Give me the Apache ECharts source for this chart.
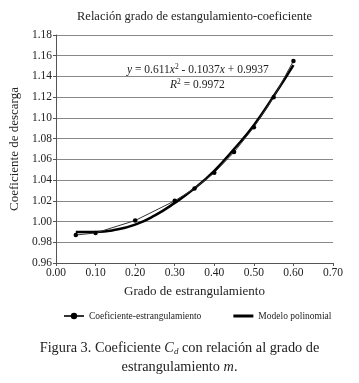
<!DOCTYPE html>
<html><head><meta charset="utf-8">
<script src="https://cdn.jsdelivr.net/npm/echarts@6/dist/echarts.min.js"></script>
<style>html,body{margin:0;padding:0;background:#fff}#c{width:359px;height:383px}</style>
</head><body><div id="c"></div>
<script>
var gradoX = [0.05, 0.10, 0.20, 0.30, 0.35, 0.40, 0.45, 0.50, 0.55, 0.60];
var coefY = [0.987, 0.989, 1.001, 1.020, 1.032, 1.047, 1.067, 1.091, 1.120, 1.155];
var modeloX = [0.05, 0.10, 0.15, 0.20, 0.25, 0.30, 0.35, 0.40, 0.45, 0.50, 0.55, 0.60];
var modeloY = [0.990, 0.990, 0.992, 0.997, 1.006, 1.018, 1.032, 1.049, 1.070, 1.093, 1.121, 1.151];
var xTicks = ['0.00','0.10','0.20','0.30','0.40','0.50','0.60','0.70'];
var serif = '"Liberation Serif","DejaVu Serif",serif';

var chart = echarts.init(document.getElementById('c'));
chart.setOption({
  animation: false,
  title: {
    text: 'Relación grado de estangulamiento-coeficiente',
    left: 72, top: 5,
    textStyle: {fontFamily: serif, fontSize: 12.5, fontWeight: 'normal', color: '#222'}
  },
  grid: {left: 50, right: 26, top: 35, bottom: 120},
  xAxis: {
    type: 'value', min: 0, max: 0.7, interval: 0.1,
    name: 'Grado de estrangulamiento', nameLocation: 'middle', nameGap: 22,
    nameTextStyle: {fontFamily: serif, fontSize: 13, color: '#222'},
    axisLine: {lineStyle: {color: '#555', width: 1}},
    axisTick: {show: true, length: 3, lineStyle: {color: '#555'}},
    axisLabel: {fontFamily: serif, fontSize: 11.5, color: '#222', margin: 4,
      formatter: function (v) { return xTicks[Math.round(v * 10)]; }},
    splitLine: {show: false}
  },
  yAxis: {
    type: 'value', min: 0.96, max: 1.18, interval: 0.02,
    name: 'Coeficiente de descarga', nameLocation: 'middle', nameGap: 35,
    nameTextStyle: {fontFamily: serif, fontSize: 13, color: '#222'},
    axisLine: {show: true, lineStyle: {color: '#555', width: 1}},
    axisTick: {show: true, length: 3, lineStyle: {color: '#555'}},
    axisLabel: {fontFamily: serif, fontSize: 11.5, color: '#222', margin: 4,
      formatter: function (v) { return v.toFixed(2); }},
    splitLine: {show: true, lineStyle: {color: '#888', width: 1}}
  },
  legend: {
    top: 306, left: 58, itemGap: 32, itemWidth: 20, itemHeight: 8,
    textStyle: {fontFamily: serif, fontSize: 9.5, color: '#222'},
    data: [
      {name: 'Coeficiente-estrangulamiento'},
      {name: 'Modelo polinomial', icon: 'path://M0,0L20,0L20,3L0,3Z', itemStyle: {color: '#000'}}
    ]
  },
  series: [
    {
      name: 'Modelo polinomial', type: 'line', smooth: true, symbol: 'none',
      data: modeloX.map(function (x, i) { return [x, modeloY[i]]; }),
      lineStyle: {color: '#000', width: 2.5}, itemStyle: {color: '#000'}, z: 2
    },
    {
      name: 'Coeficiente-estrangulamiento', type: 'line', smooth: false,
      symbol: 'circle', symbolSize: 4.5,
      data: gradoX.map(function (x, i) { return [x, coefY[i]]; }),
      lineStyle: {color: '#333', width: 1}, itemStyle: {color: '#000'}, z: 3
    }
  ],
  graphic: [
    {
      type: 'text', left: 127, top: 63, z: 10,
      style: {
        text: '{i|y} = 0.611{i|x}{s|2} - 0.1037{i|x} + 0.9937',
        font: '11.5px ' + serif, fill: '#222',
        rich: {i: {fontStyle: 'italic', fontFamily: serif, fontSize: 11.5}, s: {fontSize: 7.5, verticalAlign: 'top', padding: [0,0,6,0], fontFamily: serif}}
      }
    },
    {
      type: 'text', left: 170, top: 78, z: 10,
      style: {
        text: '{i|R}{s|2} = 0.9972',
        font: '11.5px ' + serif, fill: '#222',
        rich: {i: {fontStyle: 'italic', fontFamily: serif, fontSize: 11.5}, s: {fontSize: 7.5, verticalAlign: 'top', padding: [0,0,6,0], fontFamily: serif}}
      }
    },
    {
      type: 'text', left: 'center', top: 341,
      style: {
        text: 'Figura 3. Coeficiente {i|C}{sub|d} con relación al grado de',
        font: '14.3px ' + serif, fill: '#222',
        rich: {i: {fontStyle: 'italic', fontFamily: serif, fontSize: 14.3}, sub: {fontStyle: 'italic', fontFamily: serif, fontSize: 9, padding: [7,0,0,0]}}
      }
    },
    {
      type: 'text', left: 'center', top: 360,
      style: {
        text: 'estrangulamiento {i|m}.',
        font: '14.3px ' + serif, fill: '#222',
        rich: {i: {fontStyle: 'italic', fontFamily: serif, fontSize: 14.3}}
      }
    }
  ]
});
</script></body></html>
